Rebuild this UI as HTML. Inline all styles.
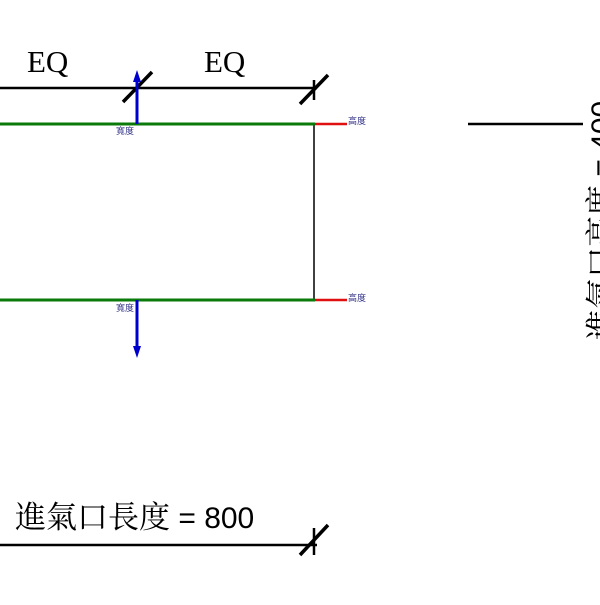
<!DOCTYPE html>
<html><head><meta charset="utf-8"><style>html,body{margin:0;padding:0;background:#fff;}</style></head>
<body>
<svg width="600" height="600" viewBox="0 0 600 600" xmlns="http://www.w3.org/2000/svg">
<g stroke="#000" stroke-width="2.5" fill="none">
<line x1="0" y1="88" x2="317" y2="88"/>
<line x1="123" y1="102" x2="152" y2="72" stroke-width="3.5"/>
<line x1="300" y1="104" x2="328" y2="75" stroke-width="3.5"/>
<line x1="314" y1="80" x2="314" y2="100"/>
<line x1="314" y1="124" x2="314" y2="300" stroke-width="1.5"/>
<line x1="0" y1="545" x2="317" y2="545"/>
<line x1="300" y1="555" x2="328" y2="525" stroke-width="3.5"/>
<line x1="314" y1="528" x2="314" y2="555"/>
<line x1="468" y1="124" x2="583" y2="124"/>
</g>
<g stroke="#0a7a0a" stroke-width="3"><line x1="0" y1="124" x2="315" y2="124"/><line x1="0" y1="300" x2="315" y2="300"/></g>
<g stroke="#e01010" stroke-width="2.5"><line x1="315" y1="124" x2="347" y2="124"/><line x1="315" y1="300" x2="347" y2="300"/></g>
<g stroke="#0000cc" stroke-width="3"><line x1="137" y1="124" x2="137" y2="80"/><line x1="137" y1="300" x2="137" y2="348"/></g>
<g fill="#0000cc"><polygon points="133,82 141,82 137,70"/><polygon points="133,346 141,346 137,358"/></g>
<g font-family="Liberation Serif, serif" fill="#000">
<text x="27" y="72" font-size="31">EQ</text>
<text x="204" y="72" font-size="31">EQ</text>
</g>
<g font-family="'Noto Serif CJK SC','Noto Sans CJK TC',serif" fill="#000" font-size="31">
<text x="15" y="528">進氣口長度<tspan font-family="'Liberation Sans',sans-serif" font-size="30"> = 800</tspan></text>
<text transform="translate(612,340) rotate(-90)">進氣口高度<tspan font-family="'Liberation Sans',sans-serif" font-size="30"> = 400</tspan></text>
</g>
<g font-family="'Noto Sans CJK TC',sans-serif" fill="#333388" font-size="9">
<text x="116" y="134">寬度</text>
<text x="116" y="311">寬度</text>
<text x="348" y="124">高度</text>
<text x="348" y="301">高度</text>
</g>
</svg>
</body></html>
